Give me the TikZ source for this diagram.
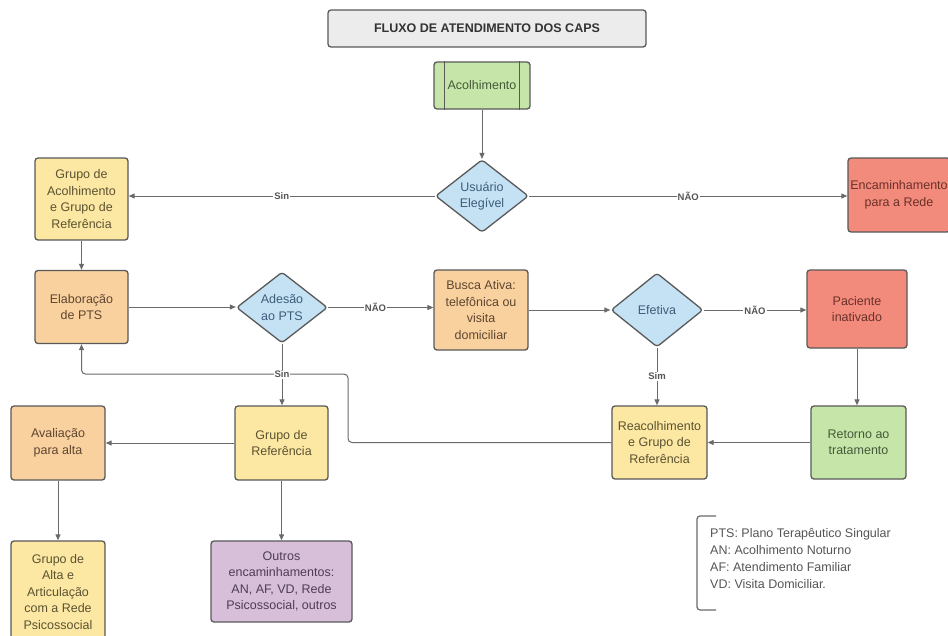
\documentclass[tikz,border=0pt]{standalone}
\usepackage{fontspec}
\setmainfont{Liberation Sans}
\usetikzlibrary{shapes.geometric,arrows.meta}
\definecolor{bordc}{HTML}{595959}
\definecolor{lcol}{HTML}{6A6A6A}
\definecolor{fgreen}{HTML}{C5E6A8}
\definecolor{fyellow}{HTML}{FCE8A3}
\definecolor{forange}{HTML}{F9D19E}
\definecolor{fred}{HTML}{F38B7D}
\definecolor{fblue}{HTML}{C5E2F5}
\definecolor{fpurple}{HTML}{D7BFDA}
\definecolor{ftitle}{HTML}{ECECEC}
\definecolor{tgreen}{HTML}{46593A}
\definecolor{tyellow}{HTML}{5A5232}
\definecolor{torange}{HTML}{5E4631}
\definecolor{tred}{HTML}{6A3027}
\definecolor{tblue}{HTML}{3D5C7A}
\definecolor{tpurple}{HTML}{4E3D52}
\definecolor{labc}{HTML}{555555}
\definecolor{legc}{HTML}{555555}
\tikzset{
  base/.style={draw=bordc, line width=1.3pt, rounded corners=3pt, align=center,
    inner sep=1pt, font=\fontsize{12.5}{16.5}\selectfont},
  gbox/.style={base, fill=fgreen, text=tgreen},
  ybox/.style={base, fill=fyellow, text=tyellow},
  obox/.style={base, fill=forange, text=torange},
  rbox/.style={base, fill=fred, text=tred},
  pbox/.style={base, fill=fpurple, text=tpurple},
  dia/.style={diamond, draw=bordc, line width=1.3pt, rounded corners=3pt, fill=fblue,
    text=tblue, align=center, inner sep=0pt, font=\fontsize{12.5}{16.5}\selectfont},
  conn/.style={draw=lcol, line width=1pt, -{Triangle[length=6pt,width=5pt]}},
  lab/.style={fill=white, inner sep=1pt, font=\fontsize{9.5}{11}\selectfont\bfseries, text=labc},
}
\begin{document}
\begin{tikzpicture}[x=1pt,y=-1pt]
\useasboundingbox (0,0) rectangle (948,635);
\fill[white] (0,0) rectangle (948,635);

% title
\node[draw=bordc, line width=1.3pt, rounded corners=3pt, fill=ftitle, minimum width=318pt,
  minimum height=37pt, inner sep=0pt, font=\fontsize{12.5}{14}\selectfont\bfseries, text=black!80]
  (title) at (487,28.5) {FLUXO DE ATENDIMENTO DOS CAPS};

% nodes
\node[gbox, minimum width=96pt, minimum height=47pt] (acol) at (482,85.5) {Acolhimento};
\draw[draw=bordc, line width=1.3pt] ([xshift=11pt]acol.north west) -- ([xshift=11pt]acol.south west);
\draw[draw=bordc, line width=1.3pt] ([xshift=-11pt]acol.north east) -- ([xshift=-11pt]acol.south east);

\node[dia, minimum width=93pt, minimum height=72pt] (eleg) at (482,196) {Usuário\\Elegível};
\node[ybox, minimum width=93pt, minimum height=82pt] (grpacol) at (81.5,199)
  {Grupo de\\Acolhimento\\e Grupo de\\Referência};
\node[rbox, minimum width=102pt, minimum height=74pt] (enc) at (899,195)
  {Encaminhamento\\para a Rede};

\node[obox, minimum width=93pt, minimum height=73pt] (elab) at (81.5,307) {Elaboração\\de PTS};
\node[dia, minimum width=91pt, minimum height=71pt] (ades) at (282,307.5) {Adesão\\ao PTS};
\node[obox, minimum width=94pt, minimum height=80pt] (busca) at (481,310)
  {Busca Ativa:\\telefônica ou\\visita\\domiciliar};
\node[dia, minimum width=92pt, minimum height=74pt] (efet) at (657,310) {Efetiva};
\node[rbox, minimum width=100pt, minimum height=78pt] (pac) at (857,309) {Paciente\\inativado};

\node[gbox, minimum width=95pt, minimum height=73pt] (ret) at (858.5,442.5) {Retorno ao\\tratamento};
\node[ybox, minimum width=95pt, minimum height=73pt] (reac) at (659.5,442.5)
  {Reacolhimento\\e Grupo de\\Referência};
\node[ybox, minimum width=93pt, minimum height=74pt] (gref) at (281.5,443) {Grupo de\\Referência};
\node[obox, minimum width=94pt, minimum height=74pt] (aval) at (58,443) {Avaliação\\para alta};

\node[ybox, minimum width=94pt, minimum height=102pt] (galta) at (58,592)
  {Grupo de\\Alta e\\Articulação\\com a Rede\\Psicossocial};
\node[pbox, minimum width=141pt, minimum height=81pt] (outros) at (281.5,581.5)
  {Outros\\encaminhamentos:\\AN, AF, VD, Rede\\Psicossocial, outros};

% connectors
\draw[conn] (acol.south) -- (eleg.north);
\draw[conn] (eleg.west) -- node[lab]{Sin} (eleg.west -| grpacol.east);
\draw[conn] (eleg.east) -- node[lab]{NÃO} (eleg.east -| enc.west);
\draw[conn] (grpacol.south) -- (elab.north);
\draw[conn] (elab.east) -- (elab.east -| ades.west);
\draw[conn] (ades.east) -- node[lab, pos=0.45]{NÃO} (ades.east -| busca.west);
\draw[conn] (busca.east) -- (efet.west);
\draw[conn] (efet.east) -- node[lab]{NÃO} (efet.east -| pac.west);
\draw[conn] (pac.south) -- (pac.south |- ret.north);
\draw[conn] (ret.west) -- (reac.east);
\draw[conn] (efet.south) -- node[lab]{Sim} (efet.south |- reac.north);
\draw[conn, rounded corners=4pt] (reac.west) -- (348,442.5) -- (348,374) -- (81.5,374) -- (elab.south);
\draw[conn] (ades.south) -- node[lab]{Sin} (ades.south |- gref.north);
\draw[conn] (gref.west) -- (gref.west -| aval.east);
\draw[conn] (aval.south) -- (galta.north);
\draw[conn] (gref.south) -- (gref.south |- outros.north);

% legend
\draw[draw=lcol, line width=1.2pt, rounded corners=3pt] (716,516) -- (697,516) -- (697,610) -- (716,610);
\node[anchor=north west, align=left, inner sep=0pt, text=legc,
  font=\fontsize{12.5}{17}\selectfont] (legend) at (710,528.5)
  {PTS: Plano Terapêutico Singular\\AN: Acolhimento Noturno\\AF: Atendimento Familiar\\VD: Visita Domiciliar.};
\end{tikzpicture}
\end{document}
